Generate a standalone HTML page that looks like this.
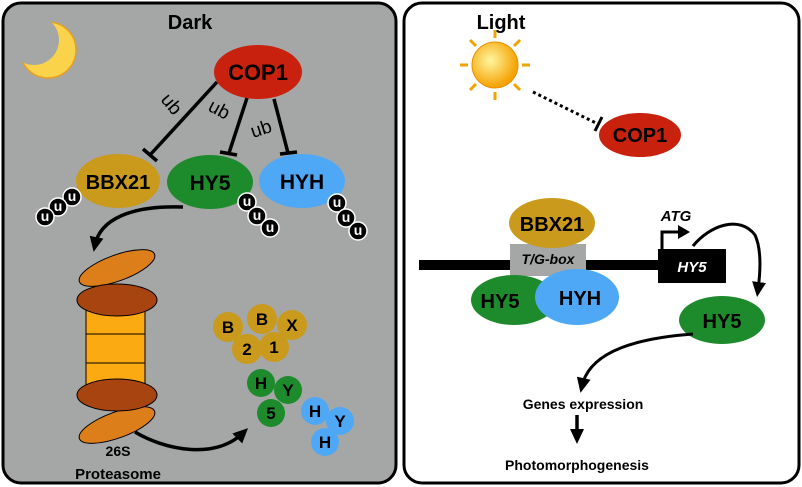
<!DOCTYPE html>
<html><head><meta charset="utf-8"><style>body{margin:0;background:#fff}svg{display:block}text{font-family:"Liberation Sans",Arial,sans-serif;font-weight:bold}</style></head><body>
<svg width="802" height="487" viewBox="0 0 802 487" xmlns="http://www.w3.org/2000/svg">
<defs>
<marker id="ah" markerWidth="16" markerHeight="16" refX="8" refY="8" orient="auto" markerUnits="userSpaceOnUse"><path d="M0,1 L15,8 L0,15 Z" fill="#000"/></marker>
<radialGradient id="sun" cx="0.4" cy="0.4" r="0.6"><stop offset="0" stop-color="#fff6a0"/><stop offset="1" stop-color="#f5a000"/></radialGradient>
<mask id="moonm"><rect x="0" y="0" width="120" height="120" fill="#fff"/><circle cx="34" cy="40" r="25" fill="#000"/></mask>
</defs>
<rect x="3" y="3" width="393" height="480" rx="18" fill="#a5a7a6" stroke="#000" stroke-width="3"/>
<rect x="404" y="3" width="395" height="480" rx="18" fill="#fff" stroke="#000" stroke-width="3"/>
<text x="190" y="29" font-size="20" text-anchor="middle">Dark</text>
<text x="501" y="29" font-size="20" text-anchor="middle">Light</text>
<!-- moon -->
<circle cx="48" cy="50" r="28" fill="#fbd34a" stroke="#e8a020" stroke-width="1.5" mask="url(#moonm)"/>
<!-- lines -->
<g stroke="#000" stroke-width="3.5" fill="none">
<line x1="217" y1="82" x2="150" y2="155"/><line x1="143" y1="149" x2="157" y2="161"/>
<line x1="247" y1="98" x2="229" y2="153"/><line x1="220" y1="152" x2="237" y2="155"/>
<line x1="274" y1="99" x2="288" y2="153"/><line x1="280" y1="154" x2="297" y2="152"/>
</g>
<text x="0" y="0" font-size="19" style="font-weight:normal" transform="translate(160,100) rotate(50)">ub</text>
<text x="0" y="0" font-size="19" style="font-weight:normal" transform="translate(207,110) rotate(28)">ub</text>
<text x="0" y="0" font-size="19" style="font-weight:normal" transform="translate(253,138) rotate(-18)">ub</text>
<ellipse cx="258" cy="72" rx="44" ry="27" fill="#c8220f"/>
<text x="258" y="80" font-size="22" text-anchor="middle">COP1</text>
<ellipse cx="118" cy="181" rx="42" ry="27" fill="#c99a1c"/>
<text x="118" y="189" font-size="20" text-anchor="middle">BBX21</text>
<ellipse cx="210" cy="182" rx="43" ry="27" fill="#1d8a2c"/>
<text x="210" y="190" font-size="21" text-anchor="middle">HY5</text>
<ellipse cx="302" cy="181" rx="43" ry="27" fill="#4fa8f5"/>
<text x="302" y="189" font-size="21" text-anchor="middle">HYH</text>
<!-- u beads -->
<g font-size="14" text-anchor="middle" stroke-width="1.5">
<g><circle cx="72" cy="197" r="9" stroke="#fff"/><text x="72" y="201" fill="#fff">u</text><circle cx="58" cy="207" r="9" stroke="#fff"/><text x="58" y="211" fill="#fff">u</text><circle cx="45" cy="217" r="9" stroke="#fff"/><text x="45" y="221" fill="#fff">u</text></g>
<g><circle cx="247" cy="202" r="9" stroke="#fff"/><text x="247" y="206" fill="#fff">u</text><circle cx="257" cy="216" r="9" stroke="#fff"/><text x="257" y="220" fill="#fff">u</text><circle cx="270" cy="228" r="9" stroke="#fff"/><text x="270" y="232" fill="#fff">u</text></g>
<g><circle cx="337" cy="203" r="9" stroke="#fff"/><text x="337" y="207" fill="#fff">u</text><circle cx="346" cy="218" r="9" stroke="#fff"/><text x="346" y="222" fill="#fff">u</text><circle cx="358" cy="231" r="9" stroke="#fff"/><text x="358" y="235" fill="#fff">u</text></g>
</g>
<path d="M183,207 C130,205 100,220 95,245" stroke="#000" stroke-width="3.5" fill="none" marker-end="url(#ah)"/>
<!-- proteasome -->
<ellipse cx="117" cy="268" rx="40" ry="13" transform="rotate(-20 117 268)" fill="#dc7f1b" stroke="#000" stroke-width="1"/>
<rect x="86" y="302" width="59" height="92" fill="#fcaa12" stroke="#000" stroke-width="1"/>
<line x1="86" y1="334" x2="145" y2="334" stroke="#000"/><line x1="86" y1="363" x2="145" y2="363" stroke="#000"/>
<ellipse cx="117" cy="300" rx="40" ry="16" fill="#a8440f" stroke="#000" stroke-width="1"/>
<ellipse cx="117" cy="425" rx="40" ry="13" transform="rotate(-20 117 425)" fill="#dc7f1b" stroke="#000" stroke-width="1"/>
<ellipse cx="117" cy="395" rx="40" ry="16" fill="#a8440f" stroke="#000" stroke-width="1"/>
<text x="118" y="456" font-size="14" text-anchor="middle">26S</text>
<text x="118" y="479" font-size="15" text-anchor="middle">Proteasome</text>
<path d="M135,432 C165,450 215,460 243,433" stroke="#000" stroke-width="3.5" fill="none" marker-end="url(#ah)"/>
<!-- fragments -->
<g font-size="17" text-anchor="middle">
<circle cx="228" cy="327" r="15" fill="#c99a1c"/><circle cx="292" cy="325" r="15" fill="#c99a1c"/><circle cx="262" cy="319" r="15" fill="#c99a1c"/>
<circle cx="247" cy="349" r="15" fill="#c99a1c"/><circle cx="274" cy="347" r="15" fill="#c99a1c"/>
<text x="228" y="333">B</text><text x="262" y="325">B</text><text x="292" y="331">X</text><text x="247" y="355">2</text><text x="274" y="353">1</text>
<circle cx="261" cy="383" r="14" fill="#1d8a2c"/><circle cx="288" cy="390" r="14" fill="#1d8a2c"/><circle cx="271" cy="413" r="14" fill="#1d8a2c"/>
<text x="261" y="389">H</text><text x="288" y="396">Y</text><text x="271" y="419">5</text>
<circle cx="315" cy="411" r="14" fill="#4fa8f5"/><circle cx="340" cy="421" r="14" fill="#4fa8f5"/><circle cx="325" cy="442" r="14" fill="#4fa8f5"/>
<text x="315" y="417">H</text><text x="340" y="427">Y</text><text x="325" y="448">H</text>
</g>
<!-- sun -->
<g stroke="#f2a300" stroke-width="3">
<line x1="495" y1="30" x2="495" y2="38"/><line x1="495" y1="92" x2="495" y2="100"/><line x1="460" y1="65" x2="468" y2="65"/><line x1="522" y1="65" x2="530" y2="65"/>
<line x1="470" y1="40" x2="476" y2="46"/><line x1="514" y1="84" x2="520" y2="90"/><line x1="520" y1="40" x2="514" y2="46"/><line x1="476" y1="84" x2="470" y2="90"/>
</g>
<circle cx="495" cy="65" r="23" fill="url(#sun)" stroke="#e89000" stroke-width="1"/>
<line x1="533" y1="92" x2="598" y2="124" stroke="#000" stroke-width="3" stroke-dasharray="3,3"/>
<line x1="595" y1="131" x2="602" y2="117" stroke="#000" stroke-width="3"/>
<ellipse cx="640" cy="135" rx="41" ry="22" fill="#c8220f"/>
<text x="640" y="142" font-size="20" text-anchor="middle">COP1</text>
<!-- DNA -->
<rect x="419" y="260" width="245" height="10" fill="#000"/>
<rect x="510" y="244" width="76" height="32" fill="#a5a7a6"/>
<ellipse cx="552" cy="223" rx="43" ry="25" fill="#c99a1c"/>
<text x="552" y="231" font-size="20" text-anchor="middle">BBX21</text>
<text x="548" y="264" font-size="14" font-style="italic" text-anchor="middle">T/G-box</text>
<ellipse cx="514" cy="300" rx="43" ry="25" fill="#1d8a2c"/>
<text x="500" y="308" font-size="20" text-anchor="middle">HY5</text>
<ellipse cx="577" cy="297" rx="42" ry="28" fill="#4fa8f5"/>
<text x="580" y="305" font-size="20" text-anchor="middle">HYH</text>
<rect x="658" y="249" width="68" height="34" fill="#000"/>
<text x="692" y="272" font-size="15" font-style="italic" fill="#fff" text-anchor="middle">HY5</text>
<path d="M662,249 L662,232 L680,232" stroke="#000" stroke-width="3" fill="none"/>
<path d="M678,225 L690,232 L678,239 Z" fill="#000"/>
<text x="676" y="221" font-size="15" font-style="italic" text-anchor="middle">ATG</text>
<path d="M693,246 C710,225 740,215 755,235 C762,250 760,275 758,290" stroke="#000" stroke-width="3" fill="none" marker-end="url(#ah)"/>
<ellipse cx="722" cy="320" rx="43" ry="24" fill="#1d8a2c"/>
<text x="722" y="328" font-size="20" text-anchor="middle">HY5</text>
<path d="M693,334 C640,338 590,350 582,386" stroke="#000" stroke-width="3" fill="none" marker-end="url(#ah)"/>
<text x="583" y="409" font-size="14" text-anchor="middle">Genes expression</text>
<line x1="577" y1="415" x2="577" y2="437" stroke="#000" stroke-width="3.5" marker-end="url(#ah)"/>
<text x="577" y="470" font-size="14" text-anchor="middle">Photomorphogenesis</text>
</svg>
</body></html>
